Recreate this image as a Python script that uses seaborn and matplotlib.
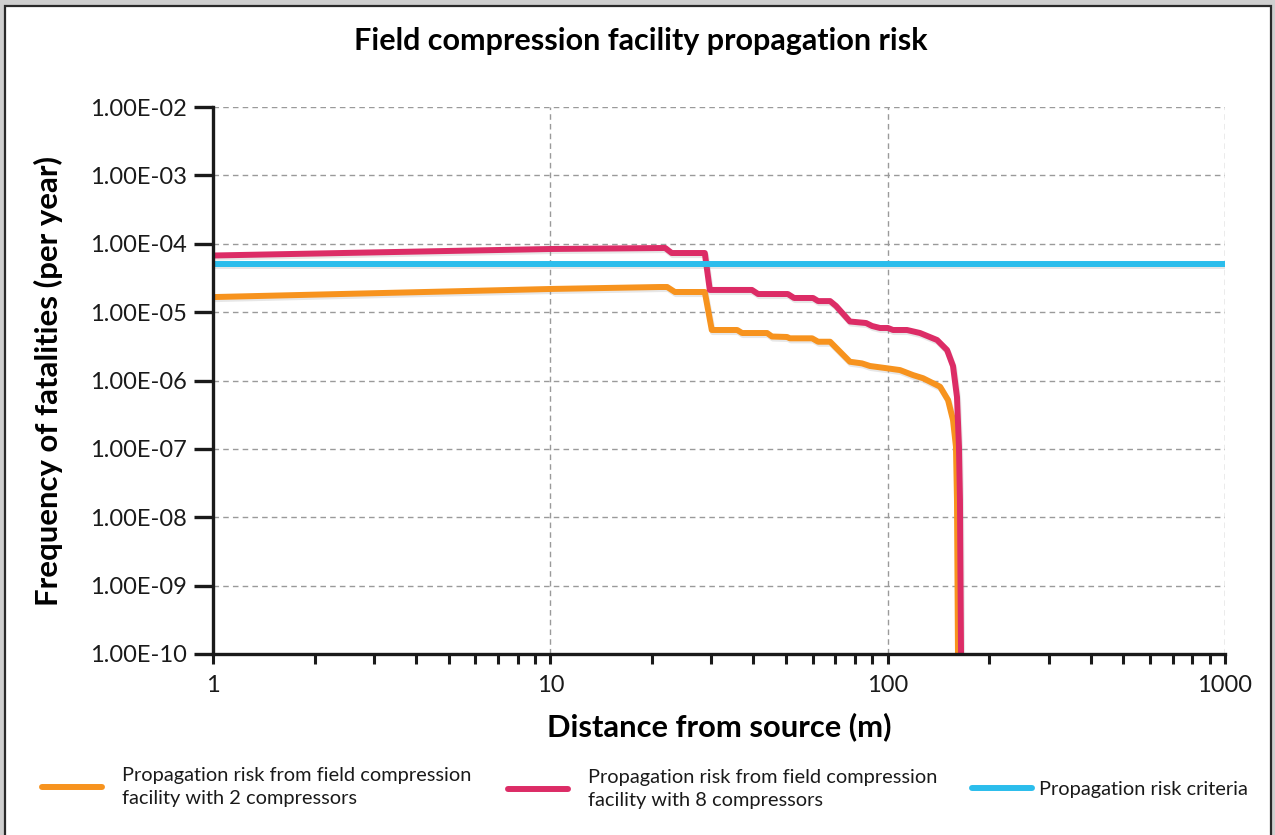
import matplotlib
matplotlib.use("Agg")
import matplotlib.pyplot as plt
import matplotlib.patheffects as pe
from matplotlib.patches import Rectangle
from matplotlib.lines import Line2D
from matplotlib.ticker import FixedLocator, FuncFormatter, NullFormatter
import numpy as np
import pandas as pd
import seaborn as sns

# Distance from source (m) and fatality frequency (per year) for each case
dist_2comp = [1, 10.0, 21.1, 22.2, 23.4, 28.7, 30.1, 35.8, 37.0, 43.9, 45.4, 50.3,
              51.3, 59.7, 62.2, 67.5, 77.3, 83.9, 88.6, 99.5, 108.8, 118.9, 127.3,
              143.0, 151.0, 156.2, 159.4, 160.5, 161.6]
freq_2comp = [1.66e-5, 2.18e-5, 2.33e-5, 2.33e-5, 1.97e-5, 1.97e-5, 5.48e-6, 5.48e-6,
              4.95e-6, 4.95e-6, 4.40e-6, 4.33e-6, 4.14e-6, 4.14e-6, 3.69e-6, 3.69e-6,
              1.88e-6, 1.78e-6, 1.63e-6, 1.51e-6, 1.42e-6, 1.20e-6, 1.08e-6, 8.11e-7,
              5.18e-7, 2.64e-7, 1.07e-7, 1.79e-8, 1.0e-10]

dist_8comp = [1, 10.0, 21.9, 22.9, 28.7, 29.7, 39.6, 41.3, 50.6, 52.8, 60.1, 62.2,
              67.5, 70.3, 77.3, 86.3, 89.9, 94.9, 100.2, 103.7, 114.1, 124.7, 140.1,
              150.0, 156.2, 160.5, 162.7, 163.8, 165.0]
freq_8comp = [6.73e-5, 8.38e-5, 8.67e-5, 7.32e-5, 7.32e-5, 2.11e-5, 2.11e-5, 1.84e-5,
              1.84e-5, 1.61e-5, 1.61e-5, 1.45e-5, 1.45e-5, 1.23e-5, 7.29e-6, 6.93e-6,
              6.27e-6, 5.86e-6, 5.86e-6, 5.48e-6, 5.48e-6, 4.95e-6, 3.91e-6, 2.79e-6,
              1.63e-6, 5.74e-7, 1.07e-7, 1.79e-8, 1.0e-10]

dist_criteria = [1, 1000]
freq_criteria = [5.0e-5, 5.0e-5]

series_labels = ["Propagation risk from field compression\nfacility with 2 compressors",
                 "Propagation risk from field compression\nfacility with 8 compressors",
                 "Propagation risk criteria"]
series_colors = ["#F7931E", "#DC2C66", "#2BBDEC"]

x_ticks = [1, 10, 100, 1000]
x_tick_labels = ["1", "10", "100", "1000"]
y_ticks = [1e-10, 1e-9, 1e-8, 1e-7, 1e-6, 1e-5, 1e-4, 1e-3, 1e-2]

sns.set_theme(style="white")
plt.rcParams["font.family"] = ["Lato", "DejaVu Sans"]

fig = plt.figure(figsize=(12.75, 8.35), dpi=100)
fig.patch.set_facecolor("#cfcfcf")
fig.patches.append(Rectangle((5 / 1275, -0.01), 1266 / 1275, 1.01 - 6 / 835,
                             transform=fig.transFigure, facecolor="white",
                             edgecolor="#2a2a2a", lw=1.6, zorder=-10))

ax = fig.add_axes([213 / 1275, 1 - 654 / 835, 1012 / 1275, 547 / 835])
ax.set_facecolor("white")

frames = [
    pd.DataFrame({"distance": dist_2comp, "frequency": freq_2comp}),
    pd.DataFrame({"distance": dist_8comp, "frequency": freq_8comp}),
    pd.DataFrame({"distance": dist_criteria, "frequency": freq_criteria}),
]
shadow = [pe.SimpleLineShadow(offset=(0.8, -1.5), shadow_color="#888888", alpha=0.2),
          pe.Normal()]
for df, col in zip(frames, series_colors):
    sns.lineplot(data=df, x="distance", y="frequency", ax=ax, color=col, lw=4.3,
                 sort=False, estimator=None, legend=False)
for line in ax.get_lines():
    line.set_path_effects(shadow)
    line.set_solid_joinstyle("round")
    line.set_zorder(3)

ax.set_xscale("log")
ax.set_yscale("log")
ax.set_xlim(1, 1000)
ax.set_ylim(1e-10, 1e-2)

ax.xaxis.set_major_locator(FixedLocator(x_ticks))
ax.set_xticklabels(x_tick_labels)
minor = [m * d for d in (1, 10, 100) for m in range(2, 10)]
ax.xaxis.set_minor_locator(FixedLocator(minor))
ax.xaxis.set_minor_formatter(NullFormatter())
ax.yaxis.set_major_locator(FixedLocator(y_ticks))
ax.yaxis.set_major_formatter(FuncFormatter(lambda v, p: f"{v:.2E}"))
ax.yaxis.set_minor_locator(FixedLocator([]))

ax.grid(True, which="major", color="#9a9a9a", linestyle=(0, (4, 3)), lw=1.0)
for s in ("top", "right"):
    ax.spines[s].set_visible(False)
for s in ("left", "bottom"):
    ax.spines[s].set_color("#1a1a1a")
    ax.spines[s].set_linewidth(2.4)
    ax.spines[s].set_zorder(4)

ax.tick_params(axis="y", which="major", direction="out", length=14, width=2.4,
               color="#1a1a1a", left=True, pad=5, labelsize=17, labelcolor="#1a1a1a")
ax.tick_params(axis="x", which="both", direction="out", length=7, width=2.2,
               color="#1a1a1a", bottom=True, pad=8, labelsize=17, labelcolor="#1a1a1a")

ax.set_xlabel("Distance from source (m)", fontsize=22.2, fontweight="bold",
              color="black", labelpad=12)
ax.set_ylabel("Frequency of fatalities (per year)", fontsize=22.4, fontweight="bold",
              color="black", labelpad=19)
fig.text(641 / 1275, 1 - 41 / 835, "Field compression facility propagation risk",
         ha="center", va="center", fontsize=22, fontweight="bold", color="black")

# Legend entries placed along the bottom of the figure
legend_x = [42, 508, 972]
legend_y = [787, 789, 789]
text_pads = [1.0, 1.0, 0.35]
for lab, col, lx, ly, tp in zip(series_labels, series_colors, legend_x, legend_y, text_pads):
    h = Line2D([0], [0], color=col, lw=4.3, solid_capstyle="round")
    leg = fig.legend([h], [lab], loc="center left",
                     bbox_to_anchor=(lx / 1275, 1 - ly / 835), frameon=False,
                     borderpad=0, borderaxespad=0, handlelength=3.0, handletextpad=tp,
                     fontsize=14.4, labelcolor="#1a1a1a")
    for t in leg.get_texts():
        t.set_linespacing(1.45)

fig.savefig("out.png", dpi=100, facecolor=fig.get_facecolor())
